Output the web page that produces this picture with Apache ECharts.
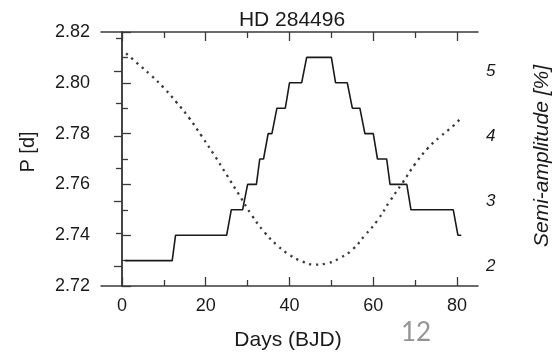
<!DOCTYPE html>
<html>
<head>
<meta charset="utf-8">
<script src="https://cdn.jsdelivr.net/npm/echarts@6/dist/echarts.min.js"></script>
<style>
  html, body { margin: 0; padding: 0; background: #fff; }
  #chart { width: 558px; height: 357px; }
</style>
</head>
<body>
<div id="chart"></div>
<script>
// Rotation period (step curve, left axis)
const periodDays = [0.8, 12.0, 12.8, 25.0, 26.1, 28.8, 30.0, 32.1, 32.9, 33.8, 34.9, 35.8,
  37.0, 39.0, 40.0, 42.9, 44.1, 50.0, 51.0, 53.8, 55.0, 56.8, 58.0, 60.0, 61.0, 63.2,
  64.0, 68.0, 69.0, 79.1, 80.2, 81.0];
const periodValues = [2.73, 2.73, 2.74, 2.74, 2.75, 2.75, 2.76, 2.76, 2.77, 2.77, 2.78, 2.78,
  2.79, 2.79, 2.80, 2.80, 2.81, 2.81, 2.80, 2.80, 2.79, 2.79, 2.78, 2.78, 2.77, 2.77,
  2.76, 2.76, 2.75, 2.75, 2.74, 2.74];

// Semi-amplitude (dotted curve, right axis)
const ampDays = [1, 4, 7, 10, 13, 16, 19, 22, 25, 28, 31, 34, 37, 40, 43, 46, 49, 52,
  55, 58, 61, 64, 67, 70, 73, 76, 79, 81];
const ampValues = [5.27, 5.10, 4.93, 4.74, 4.52, 4.28, 4.00, 3.71, 3.40, 3.09, 2.78, 2.52,
  2.32, 2.17, 2.07, 2.02, 2.04, 2.12, 2.25, 2.47, 2.70, 3.00, 3.28, 3.57, 3.81, 3.99, 4.15, 4.28];

// Tick positions and labels
const xMajorTicks = [0, 20, 40, 60, 80];
const xMinorTicks = [10, 30, 50, 70];
const rightMajorTicks = [2, 3, 4, 5];
const rightMinorTicks = [2.5, 3.5, 4.5, 5.5];

const titleText = 'HD 284496';
const xName = 'Days (BJD)';
const yLeftName = 'P [d]';
const yRightName = 'Semi-amplitude [%]';
const pageNumber = '12';

const axisColor = '#3a3a3a';
const textColor = '#1a1a1a';
const font = 'Liberation Sans, Arial, sans-serif';

const grid = { left: 101, right: 80, top: 32, bottom: 71 };

function xAxisDef(pos, ticks, len, showLine, labels) {
  return {
    type: 'value', position: pos, min: -5, max: 85,
    axisLine: { show: showLine, onZero: false, lineStyle: { color: axisColor, width: 1.5 } },
    axisTick: { show: true, inside: true, length: len, customValues: ticks,
      lineStyle: { color: axisColor, width: 1.3 } },
    axisLabel: labels ? { show: true, customValues: labels, margin: 11, color: textColor,
      fontSize: 18, fontFamily: font } : { show: false },
    splitLine: { show: false }
  };
}

const chart = echarts.init(document.getElementById('chart'), null, { renderer: 'canvas' });
chart.setOption({
  animation: false,
  backgroundColor: '#fff',
  grid: grid,
  xAxis: [
    xAxisDef('bottom', xMajorTicks, 9, true, xMajorTicks),
    xAxisDef('top', xMajorTicks, 9, true, null),
    xAxisDef('bottom', xMinorTicks, 6, false, null),
    xAxisDef('top', xMinorTicks, 6, false, null)
  ],
  yAxis: [
    {
      type: 'value', position: 'left', min: 2.72, max: 2.82, interval: 0.02,
      axisLine: { show: true, lineStyle: { color: axisColor, width: 1.5 } },
      axisTick: { show: true, inside: true, length: 9, lineStyle: { color: axisColor, width: 1.3 } },
      minorTick: { show: true, splitNumber: 2, length: 6, lineStyle: { color: axisColor, width: 1.3 } },
      axisLabel: { margin: 11, color: textColor, fontSize: 18, fontFamily: font,
        formatter: v => v.toFixed(2) },
      splitLine: { show: false }
    },
    {
      type: 'value', position: 'right', min: 1.69, max: 5.6,
      axisLine: { show: true, lineStyle: { color: axisColor, width: 1.5 } },
      axisTick: { show: true, inside: true, length: 8, customValues: rightMajorTicks,
        lineStyle: { color: axisColor, width: 1.3 } },
      axisLabel: { margin: 8, color: textColor, fontSize: 17, fontStyle: 'italic',
        fontFamily: font, customValues: rightMajorTicks },
      splitLine: { show: false }
    },
    {
      type: 'value', position: 'right', min: 1.69, max: 5.6,
      axisLine: { show: false },
      axisTick: { show: true, inside: true, length: 6, customValues: rightMinorTicks,
        lineStyle: { color: axisColor, width: 1.3 } },
      axisLabel: { show: false },
      splitLine: { show: false }
    }
  ],
  series: [
    {
      type: 'line', xAxisIndex: 0, yAxisIndex: 0, symbol: 'none',
      data: periodDays.map((d, i) => [d, periodValues[i]]),
      lineStyle: { color: '#1a1a1a', width: 1.6 }
    },
    {
      type: 'line', xAxisIndex: 0, yAxisIndex: 1, symbol: 'none', smooth: true,
      data: ampDays.map((d, i) => [d, ampValues[i]]),
      lineStyle: { color: '#3a3a3a', width: 2.3, type: [2.3, 4.6] }
    }
  ],
  graphic: [
    { type: 'text', x: 292, y: 20, style: { text: titleText, fontSize: 21,
      fontFamily: font, fill: textColor, align: 'center', verticalAlign: 'middle' } },
    { type: 'text', x: 288, y: 340, style: { text: xName, fontSize: 21, fontFamily: font,
      fill: textColor, align: 'center', verticalAlign: 'middle' } },
    { type: 'text', rotation: Math.PI / 2, x: 28, y: 152, style: { text: yLeftName,
      fontSize: 20, fontFamily: font, fill: textColor, align: 'center', verticalAlign: 'middle' } },
    { type: 'text', rotation: Math.PI / 2, x: 542, y: 156, style: { text: yRightName,
      fontSize: 21, fontStyle: 'italic', fontFamily: font, fill: textColor,
      align: 'center', verticalAlign: 'middle' } },
    { type: 'text', x: 416, y: 333, style: { text: pageNumber, fontSize: 26,
      fontFamily: 'Lato, sans-serif', fill: '#949494', align: 'center', verticalAlign: 'middle' } }
  ]
});
</script>
</body>
</html>
